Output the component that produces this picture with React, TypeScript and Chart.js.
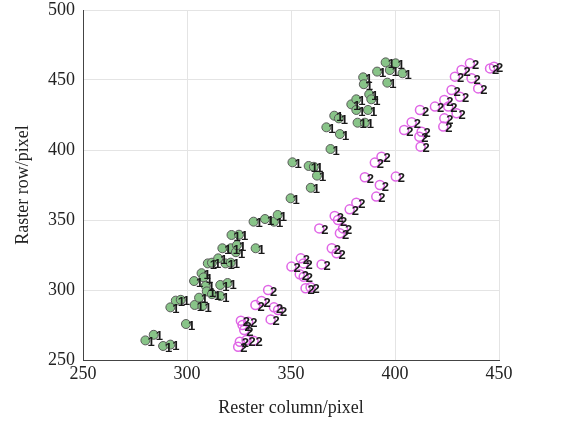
import React, { useEffect, useRef } from "react";
import { Chart, registerables } from "chart.js";

Chart.register(...registerables);

const class1X = [280, 284, 288.5, 292, 292, 294.6, 297, 299.5, 303.7, 305.8, 303.4, 307.4, 307, 308, 309, 309.5, 310, 312, 315, 317, 321, 318.5, 321, 321.4, 325, 323.5, 324, 312, 316, 316, 319.5, 333, 332, 337.5, 341.8, 343.6, 349.8, 350.7, 358.5, 361, 362.5, 359.5, 369, 367, 370.8, 373, 373.5, 379, 381.4, 381.4, 382, 385.5, 384.7, 385, 387.6, 387, 388.6, 391.4, 395.5, 397.5, 396.3, 400.3, 403.6];
const class1Y = [264, 268, 260, 261, 287.6, 292.4, 293, 275.7, 289.3, 294.5, 306.4, 288.6, 312, 309, 303, 299, 319, 319.5, 322.6, 329.8, 329.8, 319, 319.5, 339.3, 339.5, 327, 332, 297, 295.7, 303.6, 305, 329.8, 348.8, 350.7, 348.8, 353.6, 365.5, 391.2, 388.6, 388, 381.7, 373, 400.7, 416.2, 424.5, 422.6, 411.4, 432.6, 436.2, 428.6, 419.5, 419.5, 451.9, 447, 439.8, 428.6, 436.2, 456, 462.6, 457.1, 448.1, 461.9, 454.8];

const class2X = [324.6, 325.4, 328.6, 332, 325.9, 326.7, 327.5, 329.4, 332.9, 335.8, 339, 340.2, 341.8, 343.8, 350.2, 354.2, 354.7, 356, 356.1, 357, 359.4, 364.7, 363.6, 369.6, 371.9, 371, 372.6, 373.5, 375, 378.2, 381.4, 385.5, 390.3, 393.5, 391, 392.7, 400.4, 404.4, 408, 412, 411.7, 412.3, 412.8, 419.2, 423.2, 423.7, 423.7, 425.6, 427.2, 429.6, 431.2, 428.8, 432, 436, 436.8, 440, 445.7, 447.6];
const class2Y = [259.5, 263, 264.3, 263.8, 278, 275, 271.4, 277.4, 289.3, 292.1, 300, 279, 287.6, 285.7, 316.7, 311.2, 322.6, 319, 309.5, 301.2, 302, 318.3, 344, 329.8, 326.2, 352.9, 350, 340.5, 344, 357.6, 362.4, 380.5, 391, 395.2, 366.7, 375, 381, 414.3, 419.8, 428.6, 409.5, 402.4, 413, 431, 416.7, 422.6, 435.7, 431, 442.9, 426.2, 438, 452.4, 457.1, 461.9, 451.2, 444, 458.3, 459.5];

const classLabels = ["1", "2"];
const xTicks = [250, 300, 350, 400, 450];
const yTicks = [250, 300, 350, 400, 450, 500];

const labelPlugin = {
  id: "pointLabels",
  afterDatasetsDraw(chart: any) {
    const ctx = chart.ctx;
    ctx.save();
    ctx.font = "bold 13px 'Liberation Sans', sans-serif";
    ctx.fillStyle = "#1a1a1a";
    ctx.textAlign = "left";
    ctx.textBaseline = "middle";
    chart.data.datasets.forEach((ds: any, i: number) => {
      const meta = chart.getDatasetMeta(i);
      meta.data.forEach((el: any) => {
        ctx.fillText(classLabels[i], el.x + 2, el.y + 2);
      });
    });
    ctx.restore();
  },
};

export default function App() {
  const ref = useRef<HTMLCanvasElement | null>(null);
  useEffect(() => {
    document.body.style.margin = "0";
    const serif = "'Liberation Serif', 'Times New Roman', serif";
    const chart = new Chart(ref.current!, {
      type: "scatter",
      data: {
        datasets: [
          {
            label: classLabels[0],
            data: class1X.map((x, i) => ({ x, y: class1Y[i] })),
            backgroundColor: "#88c488",
            borderColor: "#5a5a5a",
            borderWidth: 1,
            pointRadius: 4.5,
          },
          {
            label: classLabels[1],
            data: class2X.map((x, i) => ({ x, y: class2Y[i] })),
            backgroundColor: "rgba(0,0,0,0)",
            borderColor: "#e066e6",
            borderWidth: 1.5,
            pointRadius: 4.5,
          },
        ],
      },
      options: {
        animation: false,
        responsive: false,
        layout: { padding: { left: 0, right: 78, top: 0, bottom: 0 } },
        plugins: { legend: { display: false }, tooltip: { enabled: false } },
        scales: {
          x: {
            type: "linear",
            min: 250,
            max: 450,
            afterBuildTicks: (s: any) => { s.ticks = xTicks.map((v) => ({ value: v })); },
            afterFit: (s: any) => { s.height = 63; },
            ticks: { color: "#222", font: { family: serif, size: 18 }, padding: 3 },
            grid: { color: "#e4e4e4", drawTicks: false },
            border: { color: "#444", width: 1 },
            title: { display: true, text: "Rester column/pixel", color: "#222", font: { family: serif, size: 18 }, padding: { top: 0, bottom: 4 } },
          },
          y: {
            type: "linear",
            min: 250,
            max: 500,
            afterBuildTicks: (s: any) => { s.ticks = yTicks.map((v) => ({ value: v })); },
            afterFit: (s: any) => { s.width = 83; s.paddingTop = 10; },
            ticks: { color: "#222", font: { family: serif, size: 18 }, padding: 8 },
            grid: { color: "#e4e4e4", drawTicks: false },
            border: { color: "#444", width: 1 },
            title: { display: true, text: "Raster row/pixel", color: "#222", font: { family: serif, size: 18 }, padding: { top: 12, bottom: 0 } },
          },
        },
      },
      plugins: [labelPlugin],
    } as any);
    return () => chart.destroy();
  }, []);
  return (
    <div style={{ position: "absolute", left: 0, top: 0, width: 577, height: 423, background: "#fff" }}>
      <canvas ref={ref} width={577} height={423} style={{ width: 577, height: 423 }} />
    </div>
  );
}
